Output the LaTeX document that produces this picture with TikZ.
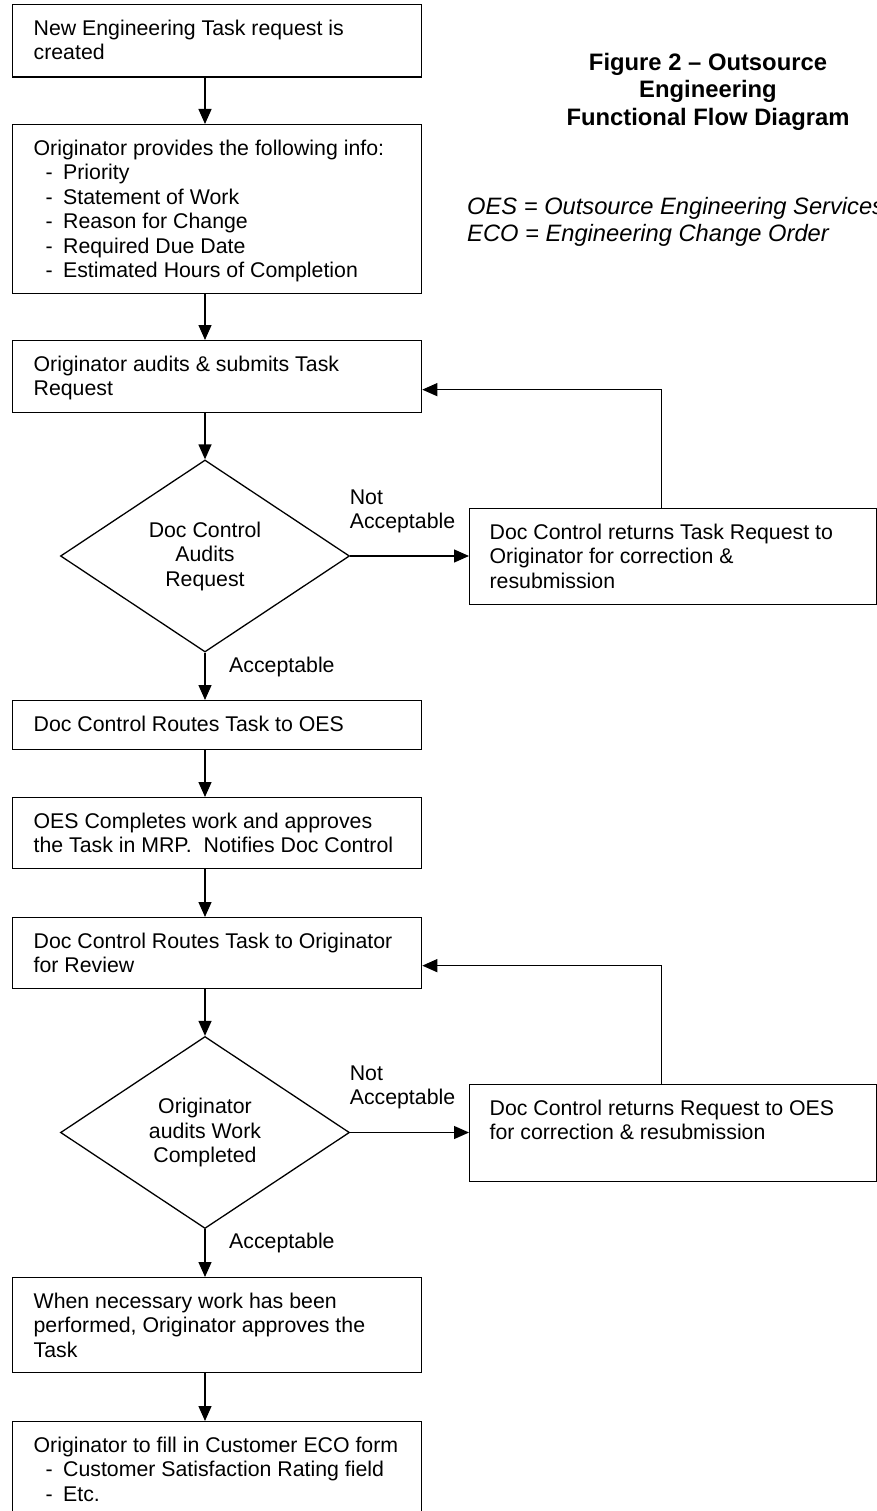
\documentclass[tikz,border=0pt]{standalone}
\usepackage{fontspec}
\setmainfont{Liberation Sans}
\usetikzlibrary{arrows.meta,shapes.geometric}
\newcommand{\bodyfont}{\fontsize{21.3pt}{24.5pt}\selectfont}
\newcommand{\bt}[4][21]{\parbox[c][#3pt][t]{#2pt}{\leftskip=#1pt\rightskip=0pt plus 1fil\relax\rule{0pt}{30.5pt}#4}}
\newcommand{\itm}[1]{\makebox[29.5pt][l]{\hspace*{12pt}-}#1}
\tikzset{
  box/.style={draw, line width=1.3pt, inner sep=0pt, anchor=north west},
  dia/.style={draw, diamond, aspect=1.5, line width=1.3pt, minimum width=289pt, minimum height=192pt, inner sep=0pt, align=center},
  arr/.style={line width=1.3pt, -{Triangle[length=15pt,width=13pt]}},
  lbl/.style={inner sep=0pt, align=left},
  ttl/.style={inner sep=0pt, align=center, font=\fontsize{23.8pt}{27.5pt}\selectfont\bfseries},
  note/.style={inner sep=0pt, align=left, font=\fontsize{23.7pt}{27.3pt}\selectfont\itshape}
}
\begin{document}
\begin{tikzpicture}[x=1pt, y=-1pt, font=\bodyfont]
\useasboundingbox (0,0) rectangle (877,1511);
\coordinate (cx) at (205,0);

\node[box] (b1) at (12,4) {\bt{409}{72.5}{New Engineering Task request is\\created}};
\node[box] (b2) at (12,124) {\bt{409}{169}{Originator provides the following info:\\\itm{Priority}\\\itm{Statement of Work}\\\itm{Reason for Change}\\\itm{Required Due Date}\\\itm{Estimated Hours of Completion}}};
\node[box] (b3) at (12,340) {\bt{409}{72}{Originator audits \& submits Task\\Request}};
\node[dia] (d1) at (205,556) {Doc Control\\Audits\\Request};
\node[box] (r1) at (469,508) {\bt[20]{407}{96}{Doc Control returns Task Request to\\Originator for correction \&\\resubmission}};
\node[box] (b4) at (12,700) {\bt{409}{49}{Doc Control Routes Task to OES}};
\node[box] (b5) at (12,797) {\bt{409}{71}{OES Completes work and approves\\the Task in MRP.~ Notifies Doc Control}};
\node[box] (b6) at (12,917) {\bt{409}{71}{Doc Control Routes Task to Originator\\for Review}};
\node[dia] (d2) at (205,1132.5) {Originator\\audits Work\\Completed};
\node[box] (r2) at (469,1084) {\bt[20]{407}{97}{Doc Control returns Request to OES\\for correction \& resubmission}};
\node[box] (b7) at (12,1277) {\bt{409}{95}{When necessary work has been\\performed, Originator approves the\\Task}};
\node[box] (b8) at (12,1421) {\bt{409}{109}{Originator to fill in Customer ECO form\\\itm{Customer Satisfaction Rating field}\\\itm{Etc.}}};

\node[ttl, anchor=north] (title) at (708,50) {\rule{0pt}{20pt}Figure 2 – Outsource\\Engineering\\Functional Flow Diagram};
\node[note, anchor=north west] (oes) at (467,194) {\rule{0pt}{20pt}OES = Outsource Engineering Services\\ECO = Engineering Change Order};

\node[lbl, anchor=north west] (na1) at (349.6,484) {\rule{0pt}{20pt}Not\\Acceptable};
\node[lbl, anchor=base west] (ac1) at (229,672) {Acceptable};
\node[lbl, anchor=north west] (na2) at (349.6,1060) {\rule{0pt}{20pt}Not\\Acceptable};
\node[lbl, anchor=base west] (ac2) at (229,1248) {Acceptable};

\draw[arr] (b1.south -| cx) -- (b2.north -| cx);
\draw[arr] (b2.south -| cx) -- (b3.north -| cx);
\draw[arr] (b3.south -| cx) -- (d1.north);
\draw[arr] (d1.south) -- (b4.north -| cx);
\draw[arr] (d1.east) -- (d1.east -| r1.west);
\draw[arr] ([xshift=-11.5pt]r1.north) |- ([yshift=-13pt]b3.east);
\draw[arr] (b4.south -| cx) -- (b5.north -| cx);
\draw[arr] (b5.south -| cx) -- (b6.north -| cx);
\draw[arr] (b6.south -| cx) -- (d2.north);
\draw[arr] (d2.south) -- (b7.north -| cx);
\draw[arr] (d2.east) -- (d2.east -| r2.west);
\draw[arr] ([xshift=-11.5pt]r2.north) |- ([yshift=-12.5pt]b6.east);
\draw[arr] (b7.south -| cx) -- (b8.north -| cx);
\end{tikzpicture}
\end{document}
